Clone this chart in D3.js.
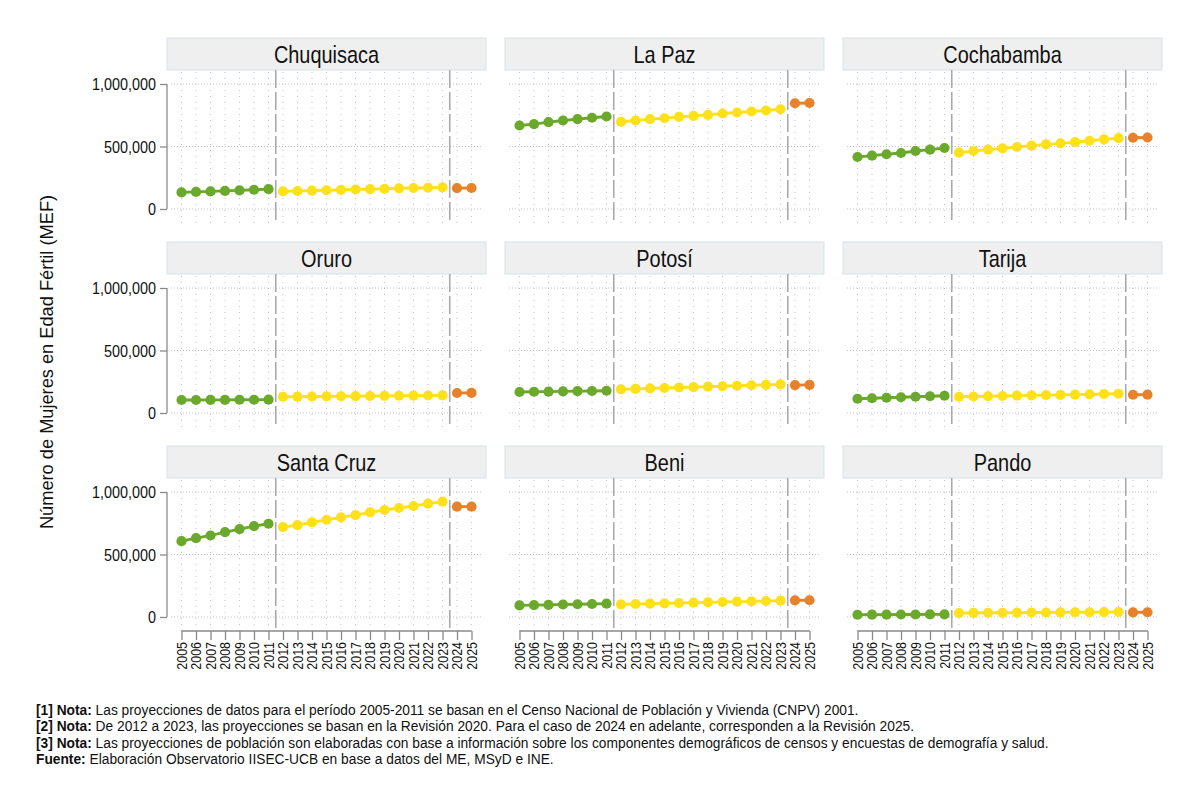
<!DOCTYPE html>
<html>
<head>
<meta charset="utf-8">
<script src="https://cdn.jsdelivr.net/npm/d3@7"></script>
<style>
  body { margin: 0; background: #fff; }
  svg text { font-family: Arial, "Liberation Sans", sans-serif; }
</style>
</head>
<body>
<script>
const departamentos = ["Chuquisaca","La Paz","Cochabamba","Oruro","Potosí","Tarija","Santa Cruz","Beni","Pando"];

const aniosCNPV = [2005,2006,2007,2008,2009,2010,2011];
const aniosRev2020 = [2012,2013,2014,2015,2016,2017,2018,2019,2020,2021,2022,2023];
const aniosRev2025 = [2024,2025];
const todosAnios = [2005,2006,2007,2008,2009,2010,2011,2012,2013,2014,2015,2016,2017,2018,2019,2020,2021,2022,2023,2024,2025];

// MEF, proyecciones CNPV 2001 (2005-2011)
const mefCNPV = [
  [133000,137000,141000,145000,149000,154000,159000],
  [668000,679000,695000,708000,719000,730000,740000],
  [416000,427000,438000,448000,464000,475000,488000],
  [104000,104000,105000,105000,106000,106000,107000],
  [168000,170000,171000,173000,175000,176000,178000],
  [114000,118000,122000,126000,130000,134000,138000],
  [607000,631000,652000,679000,703000,727000,746000],
  [93000,95000,97000,100000,102000,104000,107000],
  [18000,19000,19000,20000,20000,21000,21000]
];
// MEF, Revision 2020 (2012-2023)
const mefRev2020 = [
  [141000,144000,147000,150000,153000,156000,159000,162000,165000,168000,170000,173000],
  [698000,708000,719000,726000,737000,745000,753000,764000,772000,780000,788000,798000],
  [451000,464000,475000,485000,496000,507000,517000,525000,535000,546000,557000,567000],
  [130000,131000,132000,133000,134000,135000,136000,137000,138000,139000,140000,141000],
  [189000,193000,197000,200000,204000,207000,211000,214000,218000,222000,225000,229000],
  [130000,132000,134000,136000,139000,141000,143000,145000,147000,149000,152000,154000],
  [719000,735000,757000,778000,797000,815000,837000,856000,872000,888000,907000,923000],
  [101000,104000,107000,109000,112000,115000,117000,120000,123000,125000,128000,131000],
  [32000,33000,34000,34000,35000,36000,36000,37000,38000,38000,39000,40000]
];
// MEF, Revision 2025 (2024-2025)
const mefRev2025 = [
  [167000,168000],
  [846000,848000],
  [570000,572000],
  [160000,161000],
  [223000,225000],
  [146000,147000],
  [883000,883000],
  [133000,134000],
  [37000,38000]
];

const yTicks = [0, 500000, 1000000];
const cortes = [2011.5, 2023.5];

const notas = [
  ["[1] Nota:", " Las proyecciones de datos para el período 2005-2011 se basan en el Censo Nacional de Población y Vivienda (CNPV) 2001."],
  ["[2] Nota:", " De 2012 a 2023, las proyecciones se basan en la Revisión 2020. Para el caso de 2024 en adelante, corresponden a la Revisión 2025."],
  ["[3] Nota:", " Las proyecciones de población son elaboradas con base a información sobre los componentes demográficos de censos y encuestas de demografía y salud."],
  ["Fuente:", " Elaboración Observatorio IISEC-UCB en base a datos del ME, MSyD e INE."]
];

const W = 1200, H = 801;
const colLeft = [167, 505, 843], panelW = 319;
const rowTop = [70, 274, 478], panelH = 153, headH = 32;
const colores = ["#6aa92b", "#fee11b", "#e8822a"];

const svg = d3.select("body").append("svg")
  .attr("width", W).attr("height", H);

const fmt = d3.format(",");

departamentos.forEach((dep, i) => {
  const c = i % 3, r = Math.floor(i / 3);
  const left = colLeft[c], top = rowTop[r];

  const x = d3.scaleLinear().domain([2004, 2026]).range([left, left + panelW]);
  const y = d3.scaleLinear().domain([-112000, 1112000]).range([top + panelH, top]);

  const g = svg.append("g").attr("class", "panel");

  // header strip
  g.append("rect")
    .attr("x", left).attr("y", top - headH)
    .attr("width", panelW).attr("height", headH)
    .attr("fill", "#efefef").attr("stroke", "#d5e2e9").attr("stroke-width", 1);
  g.append("text")
    .attr("transform", `translate(${left + panelW / 2},${top - headH / 2}) scale(0.83,1)`)
    .attr("text-anchor", "middle").attr("dy", "0.36em")
    .style("font-size", "24px").attr("fill", "#111")
    .text(dep);

  // grid
  g.selectAll(".hgrid").data(yTicks).enter().append("line")
    .attr("x1", left + 4).attr("x2", left + panelW - 3)
    .attr("y1", d => y(d)).attr("y2", d => y(d))
    .attr("stroke", "#c4c4c4").attr("stroke-width", 1).attr("stroke-dasharray", "1,2");
  g.selectAll(".vgrid").data(todosAnios).enter().append("line")
    .attr("x1", d => x(d)).attr("x2", d => x(d))
    .attr("y1", top + 2).attr("y2", top + panelH)
    .attr("stroke", "#c4c4c4").attr("stroke-width", 1).attr("stroke-dasharray", "1,5");

  g.selectAll(".corte").data(cortes).enter().append("line")
    .attr("x1", d => x(d)).attr("x2", d => x(d))
    .attr("y1", top).attr("y2", top + panelH)
    .attr("stroke", "#a9a9a9").attr("stroke-width", 1.6).attr("stroke-dasharray", "18,4");

  // series
  const series = [
    [aniosCNPV, mefCNPV[i]],
    [aniosRev2020, mefRev2020[i]],
    [aniosRev2025, mefRev2025[i]]
  ];
  const line = d3.line().x(d => x(d[0])).y(d => y(d[1]));
  series.forEach((s, k) => {
    const pts = s[0].map((a, j) => [a, s[1][j]]);
    g.append("path").datum(pts)
      .attr("d", line).attr("fill", "none")
      .attr("stroke", colores[k]).attr("stroke-width", 2.8);
    g.selectAll(".p" + k).data(pts).enter().append("circle")
      .attr("cx", d => x(d[0])).attr("cy", d => y(d[1]))
      .attr("r", 5.1).attr("fill", colores[k]);
  });

  // y axis (first column)
  if (c === 0) {
    const ax = g.append("g").attr("transform", `translate(${left},0)`)
      .call(d3.axisLeft(y).tickValues(yTicks).tickSize(7).tickSizeOuter(0).tickFormat(fmt));
    ax.select(".domain").remove();
    ax.append("line").attr("x1", 0).attr("x2", 0)
      .attr("y1", y(1000000)).attr("y2", y(0))
      .attr("stroke", "#8a8a8a").attr("stroke-width", 1.3);
    ax.selectAll(".tick line").attr("stroke", "#8a8a8a").attr("stroke-width", 1.3);
    ax.selectAll(".tick text")
      .attr("x", null).attr("dy", "0.35em")
      .attr("transform", "translate(-11,0) scale(0.9,1)")
      .style("font-size", "16px").attr("fill", "#111")
      .style("font-family", "Arial, 'Liberation Sans', sans-serif");
  }

  // x axis (last row)
  if (r === 2) {
    const ax = g.append("g").attr("transform", `translate(0,${top + panelH})`)
      .call(d3.axisBottom(x).tickValues(todosAnios).tickSize(9).tickSizeOuter(0).tickFormat(d3.format("d")));
    ax.select(".domain").remove();
    ax.append("line").attr("x1", x(2005)).attr("x2", x(2025))
      .attr("y1", 0).attr("y2", 0)
      .attr("stroke", "#8a8a8a").attr("stroke-width", 1.3);
    ax.selectAll(".tick line").attr("stroke", "#8a8a8a").attr("stroke-width", 1.3);
    ax.selectAll(".tick text")
      .attr("y", null).attr("dy", "0.35em")
      .attr("transform", "translate(0,11) rotate(-90) scale(0.89,1)")
      .attr("text-anchor", "end")
      .style("font-size", "14px").attr("fill", "#111")
      .style("font-family", "Arial, 'Liberation Sans', sans-serif");
  }
});

// y axis title
svg.append("text")
  .attr("transform", "translate(47,362) rotate(-90) scale(0.985,1)")
  .attr("text-anchor", "middle").attr("dy", "0.35em")
  .style("font-size", "18.5px").attr("fill", "#111")
  .text("Número de Mujeres en Edad Fértil (MEF)");

// footnotes
notas.forEach((n, i) => {
  const t = svg.append("text")
    .attr("transform", `translate(36,${715 + i * 16.3}) scale(0.95,1)`)
    .style("font-size", "14.5px").attr("fill", "#111");
  t.append("tspan").style("font-weight", "bold").text(n[0]);
  t.append("tspan").text(n[1]);
});
</script>
</body>
</html>
